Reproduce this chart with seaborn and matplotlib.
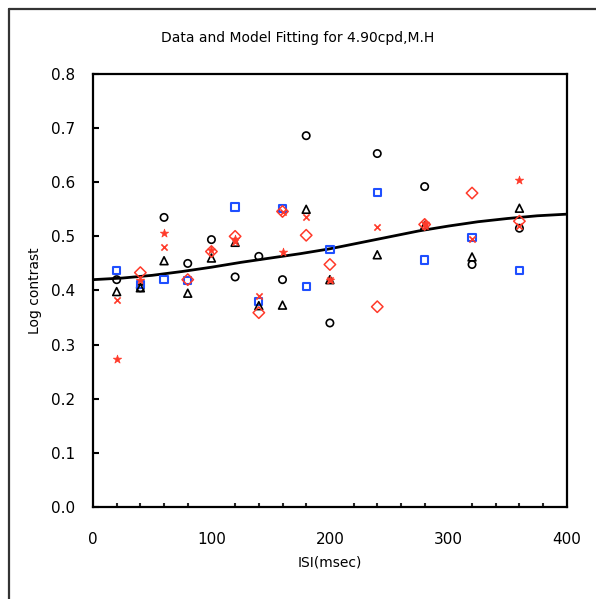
import numpy as np
import pandas as pd
import matplotlib
matplotlib.use("Agg")
import matplotlib.pyplot as plt
from matplotlib.lines import Line2D
from matplotlib.ticker import MultipleLocator, FormatStrFormatter
import seaborn as sns

# ---- data ----
isi = [20, 40, 60, 80, 100, 120, 140, 160, 180, 200, 240, 280, 320, 360]
nan = np.nan
black_circles = [0.420, 0.405, 0.535, 0.450, 0.494, 0.425, 0.463, 0.420, 0.686, 0.340, 0.653, 0.592, 0.448, 0.515]
blue_squares = [0.437, 0.411, 0.420, 0.418, nan, 0.554, 0.380, 0.552, 0.407, 0.476, 0.581, 0.456, 0.498, 0.437]
black_triangles = [0.398, 0.405, 0.455, 0.395, 0.460, 0.489, 0.372, 0.373, 0.550, 0.420, 0.466, 0.520, 0.462, 0.552]
red_diamonds = [nan, 0.433, nan, 0.420, 0.472, 0.500, 0.359, 0.546, 0.502, 0.448, 0.370, 0.522, 0.580, 0.528]
red_crosses = [0.383, nan, 0.480, nan, nan, 0.490, 0.390, 0.545, 0.535, 0.420, 0.518, 0.520, 0.496, 0.520]
red_stars = [0.273, 0.420, 0.507, nan, 0.475, 0.495, nan, 0.472, nan, 0.420, nan, 0.525, nan, 0.605]

model_x = [0, 25, 50, 75, 100, 125, 150, 175, 200, 225, 250, 275, 300, 325, 350, 375, 400]
model_y = [0.420, 0.423, 0.428, 0.435, 0.443, 0.452, 0.460, 0.468, 0.477, 0.488, 0.499, 0.510, 0.519, 0.527, 0.533, 0.538, 0.541]

title = "Data and Model Fitting for 4.90cpd,M.H"
xlabel = "ISI(msec)"
ylabel = "Log contrast"

# ---- figure ----
sns.set_theme(style="white")
plt.rcParams['font.family'] = ['DejaVu Sans']

fig = plt.figure(figsize=(5.96, 5.99), dpi=100)
ax = fig.add_axes([0.156, 0.1536, 0.795, 0.7229])

RED = "#ff3a2a"
BLUE = "#1f4fff"

df_model = pd.DataFrame({"x": model_x, "y": model_y})
sns.lineplot(data=df_model, x="x", y="y", ax=ax, color="black", linewidth=2.0, zorder=2)

series = [
    (black_circles, "o", "none", "black", 28, 1.2),
    (blue_squares, "s", "none", BLUE, 28, 1.5),
    (black_triangles, "^", "none", "black", 32, 1.2),
    (red_diamonds, "D", "none", RED, 34, 1.1),
    (red_crosses, "x", RED, RED, 20, 1.2),
    (red_stars, "*", RED, RED, 40, 0.5),
]
for vals, mk, fc, ec, s, lw in series:
    d = pd.DataFrame({"x": isi, "y": vals}).dropna()
    sns.scatterplot(data=d, x="x", y="y", ax=ax, marker=mk, s=s,
                    facecolors=fc, edgecolors=ec, linewidths=lw,
                    color=ec, zorder=3, legend=False)

ax.set_xlim(0, 400)
ax.set_ylim(0.0, 0.8)
ax.xaxis.set_major_locator(MultipleLocator(100))
ax.xaxis.set_minor_locator(MultipleLocator(20))
ax.yaxis.set_major_locator(MultipleLocator(0.1))
ax.yaxis.set_major_formatter(FormatStrFormatter("%.1f"))

for sp in ax.spines.values():
    sp.set_color("black")
    sp.set_linewidth(1.6)

ax.tick_params(axis="x", which="major", direction="inout", length=8, width=1.5,
               labelsize=11, colors="black", pad=14)
ax.tick_params(axis="x", which="minor", direction="in", length=3, width=1.5, bottom=True)
ax.tick_params(axis="y", which="major", direction="in", length=4, width=1.5,
               labelsize=11, colors="black", pad=13, left=True)

ax.set_xlabel(xlabel, fontsize=10, color="black", labelpad=6)
ax.set_ylabel(ylabel, fontsize=10, color="black", labelpad=6)
fig.text(0.50, 0.937, title, ha="center", va="center", fontsize=10, color="black")

# outer frame (extends beyond right/bottom edges)
fig.add_artist(Line2D([8.5/596, 8.5/596], [0, 1 - 9/599], transform=fig.transFigure,
                      color="#333333", linewidth=1.6))
fig.add_artist(Line2D([8.5/596, 1], [1 - 9/599, 1 - 9/599], transform=fig.transFigure,
                      color="#333333", linewidth=1.6))

fig.savefig("out.png", dpi=100, facecolor="white")
